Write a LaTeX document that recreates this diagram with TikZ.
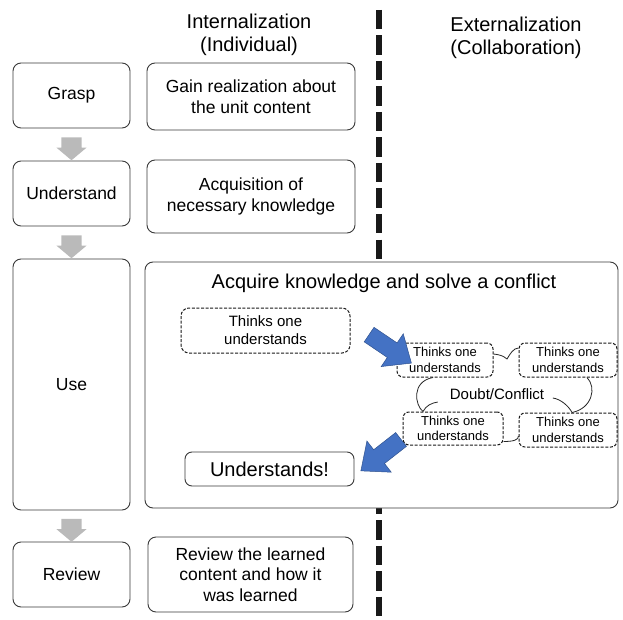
\documentclass[tikz,border=0pt]{standalone}
\usepackage{fontspec}
\setmainfont{Liberation Sans}
\usetikzlibrary{calc,shapes.arrows}

\definecolor{boxline}{HTML}{3A3A3A}
\definecolor{flowblue}{HTML}{4472C4}
\definecolor{flowedge}{HTML}{2F528F}
\definecolor{stepgray}{HTML}{BABABA}
\newcommand{\fs}[2]{\fontsize{#1}{#2}\selectfont}

\begin{document}
\begin{tikzpicture}[x=1pt,y=-1pt,
    stagebox/.style={draw=boxline, line width=0.9pt, rounded corners=8pt, fill=white, align=center, inner sep=0pt, font=\fs{17.5}{20.5}},
    thinkbox/.style={draw=black!90, line width=1pt, dash pattern=on 3pt off 1.6pt, rounded corners=6pt, align=center, inner sep=0pt, font=\fs{13}{15.5}},
    stepdown/.style={single arrow, fill=stepgray, rotate=-90, minimum height=23pt, inner xsep=0pt, inner ysep=10pt, single arrow head extend=5pt, single arrow tip angle=100},
    flow/.style={single arrow, fill=flowblue, draw=flowedge, line width=0.5pt, minimum height=51pt, inner xsep=0pt, inner ysep=8.5pt, single arrow head extend=11pt, single arrow tip angle=81},
    link/.style={draw=black!85, line width=0.8pt}]
	\useasboundingbox (0,0) rectangle (623,620);
	% dividing line
	\coordinate (divtop) at (379,10);
	\coordinate (divbot) at (379,620);
	\draw[line width=6pt, black!90, dash pattern=on 19.5pt off 6pt] (divtop) -- (divbot);
	% headings
	\node[align=center, font=\fs{20}{23}] (intern) at (249,34.5) {Internalization\\(Individual)};
	\node[align=center, font=\fs{20}{23}] (extern) at (516,37.5) {Externalization\\(Collaboration)};
	% stages
	\node[stagebox, minimum width=117pt, minimum height=65pt] (grasp) at (71.5,95.5) {Grasp};
	\node[stagebox, minimum width=117pt, minimum height=65pt] (understand) at (71.5,193.5) {Understand};
	\node[stagebox, minimum width=117pt, minimum height=251pt] (use) at (71.5,384.5) {Use};
	\node[stagebox, minimum width=117pt, minimum height=65pt] (review) at (71.5,574.5) {Review};
	\foreach \a/\b in {grasp/understand, understand/use, use/review}
		\node[stepdown] (down\a) at ($(\a.south)!0.5!(\b.north)$) {};
	% internalization
	\node[stagebox, minimum width=208pt, minimum height=67pt] (gain) at (251,96.5) {Gain realization about\\the unit content};
	\node[stagebox, minimum width=208pt, minimum height=73pt] (acquire) at (251,196.5) {Acquisition of\\necessary knowledge};
	\node[stagebox, minimum width=205pt, minimum height=75pt] (learned) at (250.5,574.5) {Review the learned\\content and how it\\was learned};
	% conflict
	\node[stagebox, minimum width=473pt, minimum height=246pt] (conflict) at (381.5,385) {};
	\node[font=\fs{20}{23}] (goal) at (384,283) {Acquire knowledge and solve a conflict};
	\node[thinkbox, rounded corners=8pt, minimum width=169pt, minimum height=45pt, font=\fs{15}{18}] (alone) at (265.5,330.5) {Thinks one\\understands};
	\node[draw=boxline, line width=0.9pt, rounded corners=7pt, minimum width=169pt, minimum height=34pt, inner sep=0pt, font=\fs{20}{23}] (done) at (269.5,469) {Understands!};
	\node[thinkbox, minimum width=96pt, minimum height=34pt] (t1) at (445,360) {Thinks one\\understands};
	\node[thinkbox, minimum width=98pt, minimum height=34pt] (t2) at (568,360) {Thinks one\\understands};
	\node[thinkbox, minimum width=100pt, minimum height=33pt] (t3) at (453,428.5) {Thinks one\\understands};
	\node[thinkbox, minimum width=98pt, minimum height=34pt] (t4) at (568,430) {Thinks one\\understands};
	\node[inner sep=0pt, font=\fs{15}{18}] (doubt) at (497,394) {Doubt/Conflict};
	\draw[link] ($(t1.east)+(0,-6)$) .. controls +(8,1) and +(-4,-3) .. (507,359) .. controls +(3,-5) and +(-5,0) .. ($(t2.west)+(0,-12)$);
	\draw[link] ($(t2.south)+(19,0)$) .. controls +(10,10) and +(20,-4) .. ($(t4.north)+(4,0)$);
	\draw[link] ($(doubt.east)+(8.5,4)$) .. controls +(8,1) and +(-3,-6) .. ($(t4.north)+(4,0)$);
	\draw[link] ($(t3.east)+(0,13)$) .. controls +(10,0) and +(0,4) .. ($(t4.west)+(0,6)$);
	\draw[link] ($(t1.south)+(-12,0)$) .. controls +(-22,4) and +(-8,-6) .. ($(t3.north)+(-30,0)$);
	\draw[link] ($(t3.north)+(-30,0)$) .. controls +(3,-6) and +(-6,1) .. ($(doubt.west)+(-12,8)$);
	\node[flow, rotate=-34] (flowin) at (386,346) {};
	\node[flow, rotate=-142] (flowout) at (385,452) {};
\end{tikzpicture}
\end{document}
